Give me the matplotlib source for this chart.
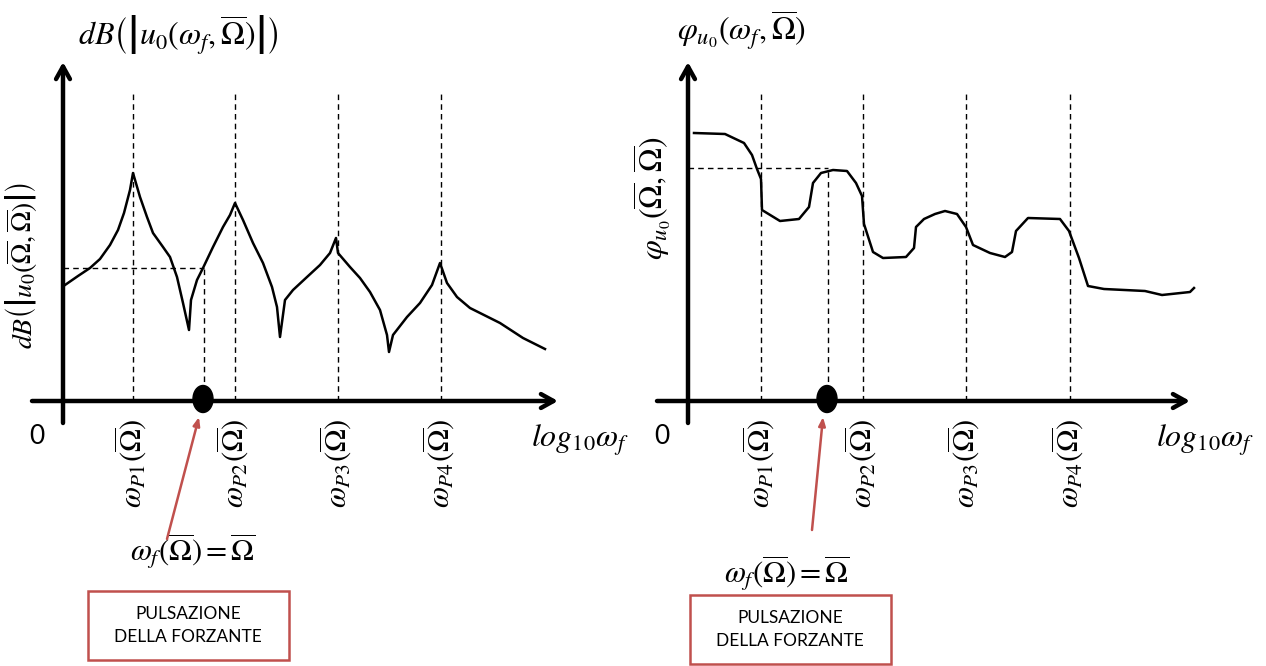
import matplotlib.pyplot as plt
from matplotlib.patches import Ellipse, Rectangle

plt.rcParams['mathtext.fontset'] = 'stix'
plt.rcParams['font.family'] = ['Lato', 'DejaVu Sans']

# --- data (arbitrary units, origin at axes cross) ---
# left: magnitude in dB vs log10(omega_f)
mag_x = [0.02, 0.15, 0.27, 0.37, 0.47, 0.55, 0.61, 0.67, 0.70, 0.77, 0.84, 0.90,
         1.00, 1.07, 1.14, 1.20, 1.26, 1.28, 1.34, 1.40, 1.50, 1.60, 1.67, 1.72,
         1.80, 1.90, 2.00, 2.09, 2.14, 2.17, 2.22, 2.30, 2.44, 2.57, 2.67, 2.73,
         2.75, 2.87, 2.97, 3.07, 3.17, 3.24, 3.26, 3.30, 3.44, 3.57, 3.69, 3.77,
         3.84, 3.94, 4.07, 4.37, 4.60, 4.82]
mag_y = [1.16, 1.25, 1.33, 1.42, 1.56, 1.71, 1.88, 2.11, 2.28, 2.04, 1.84, 1.68,
         1.54, 1.44, 1.24, 0.98, 0.71, 1.01, 1.21, 1.33, 1.54, 1.74, 1.86, 1.98,
         1.81, 1.58, 1.38, 1.14, 0.94, 0.64, 1.01, 1.11, 1.24, 1.36, 1.48, 1.63,
         1.48, 1.34, 1.23, 1.09, 0.91, 0.66, 0.49, 0.66, 0.84, 0.98, 1.16, 1.38,
         1.18, 1.04, 0.93, 0.78, 0.63, 0.52]
mag_peaks = [0.70, 1.72, 2.75, 3.78]
mag_forcing = (1.41, 1.33)

# right: phase vs log10(omega_f)
ph_x = [0.06, 0.37, 0.56, 0.64, 0.69, 0.73, 0.74, 0.92, 1.11, 1.21, 1.25, 1.33,
        1.45, 1.59, 1.68, 1.74, 1.76, 1.85, 1.95, 2.18, 2.26, 2.28, 2.36, 2.47,
        2.57, 2.69, 2.78, 2.85, 3.02, 3.17, 3.24, 3.28, 3.40, 3.72, 3.81, 3.91,
        4.00, 4.16, 4.57, 4.74, 5.02, 5.06]
ph_y = [2.68, 2.67, 2.58, 2.46, 2.32, 2.22, 1.91, 1.80, 1.82, 1.94, 2.18, 2.28,
        2.31, 2.30, 2.18, 2.05, 1.77, 1.49, 1.43, 1.44, 1.53, 1.74, 1.82, 1.87,
        1.90, 1.87, 1.74, 1.56, 1.48, 1.44, 1.49, 1.70, 1.83, 1.82, 1.70, 1.43,
        1.15, 1.12, 1.10, 1.06, 1.09, 1.13]
ph_peaks = [0.73, 1.75, 2.78, 3.82]
ph_forcing = (1.40, 2.33)

peak_labels = [r'$\omega_{P%d}(\overline{\Omega})$' % i for i in range(1, 5)]
red = '#c0504d'

fig = plt.figure(figsize=(12.66, 6.66), dpi=100)


def panel(rect, xlim, cx, cy, peaks, forcing, top_label, side_label,
          top_pos, side_pos, side_size, eq_pos, arr_from, box_xy, x_end):
    ax = fig.add_axes(rect)
    ax.set_xlim(*xlim)
    ax.set_ylim(-2.65, 4.01)
    ax.axis('off')

    # axes with arrows
    ax.annotate('', xy=(x_end, 0), xytext=(-0.31, 0),
                arrowprops=dict(arrowstyle='->,head_length=0.9,head_width=0.5',
                                lw=3.2, color='black', shrinkA=0, shrinkB=0))
    ax.annotate('', xy=(0, 3.39), xytext=(0, -0.22),
                arrowprops=dict(arrowstyle='->,head_length=0.9,head_width=0.5',
                                lw=3.2, color='black', shrinkA=0, shrinkB=0))

    # resonance lines
    for p, lab in zip(peaks, peak_labels):
        ax.plot([p, p], [0, 3.08], color='black', lw=1.0, ls=(0, (4, 3)))
        ax.text(p - 0.02, -0.17, lab, rotation=90, ha='center', va='top',
                fontsize=22)

    fx, fy = forcing
    ax.plot([0, fx], [fy, fy], color='black', lw=1.0, ls=(0, (4, 3)))
    ax.plot([fx, fx], [0, fy], color='black', lw=1.0, ls=(0, (4, 3)))

    # curve
    ax.plot(cx, cy, color='black', lw=1.8, solid_joinstyle='round')

    # forcing point
    ax.add_patch(Ellipse((fx - 0.01, 0.02), 0.2, 0.27, color='black', zorder=5))

    ax.text(-0.26, -0.36, '0', fontsize=19, ha='center', va='center')
    ax.text(5.17, -0.39, r'$log_{10}\omega_f$', fontsize=23, ha='center',
            va='center')
    ax.text(*top_pos, top_label, fontsize=23, ha='center', va='center')
    ax.text(*side_pos, side_label, fontsize=side_size, ha='center',
            va='center', rotation=90)
    ax.text(*eq_pos, r'$\omega_f(\overline{\Omega}) = \overline{\Omega}$',
            fontsize=22, ha='center', va='center')

    ax.annotate('', xy=(fx - 0.05, -0.16), xytext=arr_from,
                arrowprops=dict(arrowstyle='-|>,head_length=0.5,head_width=0.2',
                                lw=1.8, color=red, shrinkA=0, shrinkB=0))
    bx, by = box_xy
    ax.add_patch(Rectangle((bx, by), 2.01, 0.69, fill=False, ec=red, lw=1.8))
    ax.text(bx + 1.0, by + 0.345, 'PULSAZIONE\nDELLA FORZANTE', fontsize=12.5,
            ha='center', va='center', linespacing=1.6)
    return ax


panel([0, 0, 0.5, 1], (-0.63, 5.70), mag_x, mag_y, mag_peaks, mag_forcing,
      r'$dB\left(\left|u_0(\omega_f,\overline{\Omega})\right|\right)$',
      r'$dB\left(\left|u_0(\overline{\Omega},\overline{\Omega})\right|\right)$',
      (1.15, 3.66), (-0.42, 1.35), 20, (1.30, -1.50), (1.04, -1.38),
      (0.25, -2.59), 4.95)

panel([0.5, 0, 0.5, 1], (-0.55, 5.78), ph_x, ph_y, ph_peaks, ph_forcing,
      r'$\varphi_{u_0}(\omega_f,\overline{\Omega})$',
      r'$\varphi_{u_0}(\overline{\Omega},\overline{\Omega})$',
      (0.54, 3.71), (-0.36, 2.03), 23, (0.99, -1.72), (1.24, -1.29),
      (0.02, -2.63), 5.02)

fig.savefig('out.png', dpi=100)
